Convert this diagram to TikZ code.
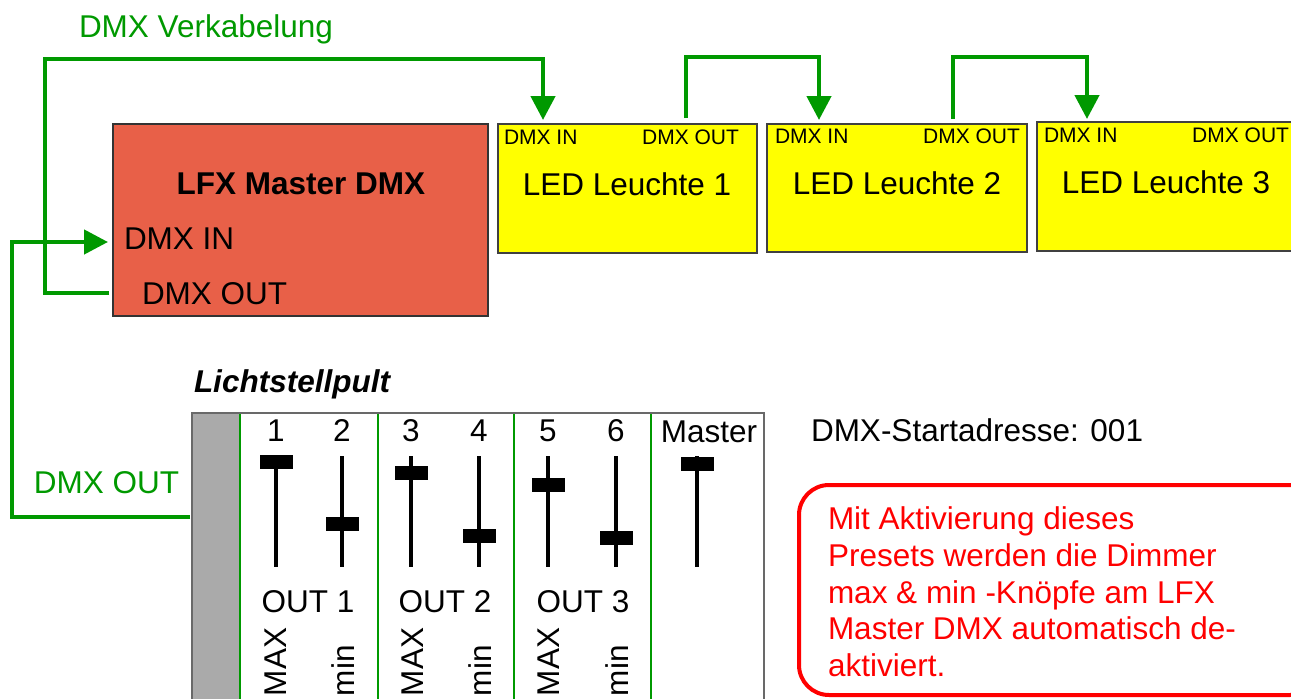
\documentclass[tikz,border=0pt]{standalone}
\usepackage{fontspec}
\setmainfont{Liberation Sans}
\usetikzlibrary{arrows.meta}
\definecolor{dmxgreen}{RGB}{0,153,0}
\definecolor{masterred}{RGB}{232,96,72}
\definecolor{ledyellow}{RGB}{255,255,0}
\definecolor{stripgray}{RGB}{170,170,170}
\definecolor{boxgray}{RGB}{105,105,105}
\definecolor{notered}{RGB}{255,0,0}
\begin{document}
\begin{tikzpicture}[x=1pt,y=-1pt,
  every node/.style={inner sep=0pt, outer sep=0pt},
  big/.style={font=\fontsize{31.5}{36.7}\selectfont},
  small/.style={font=\fontsize{21}{24}\selectfont},
  cable/.style={draw=dmxgreen, line width=4.5pt},
  cablearrow/.style={cable, -{Triangle[length=24pt,width=24pt]}},
  ledbox/.style={rectangle, draw=black!75, line width=1.2pt, fill=ledyellow},
  masterbox/.style={rectangle, draw=black!80, line width=1.2pt, fill=masterred},
  divider/.style={draw=dmxgreen, line width=1.8pt},
  faderline/.style={draw=black, line width=4pt},
  knob/.style={rectangle, fill=black, minimum width=33pt, minimum height=14pt},
  notebox/.style={rectangle, draw=notered, line width=4pt, rounded corners=30pt}
]
\useasboundingbox (0,0) rectangle (1291,699);
\clip (0,0) rectangle (1291,699);

% ---------- Master ----------
\node[masterbox, minimum width=375pt, minimum height=192pt] (master) at (300.5,220) {};
\node[big, font=\fontsize{31.5}{36.7}\selectfont\bfseries, anchor=base] (mtitle) at (301,194) {LFX Master DMX};
\node[big, anchor=base west] (min) at (124,249) {DMX IN};
\node[big, anchor=base west] (mout) at (142,304) {DMX OUT};

% ---------- LED fixtures ----------
\node[ledbox, minimum width=259pt, minimum height=129pt] (led1) at (627.5,188.5) {};
\node[ledbox, minimum width=260pt, minimum height=128pt] (led2) at (897,188) {};
\node[ledbox, minimum width=265pt, minimum height=129pt] (led3) at (1169.5,186.5) {};

\node[small, anchor=base west] (l1in)  at (504,144) {DMX IN};
\node[small, anchor=base east] (l1out) at (739,144) {DMX OUT};
\node[big, anchor=base] (l1name) at (627,195) {LED Leuchte 1};
\node[small, anchor=base west] (l2in)  at (775,143) {DMX IN};
\node[small, anchor=base east] (l2out) at (1020,143) {DMX OUT};
\node[big, anchor=base] (l2name) at (897,194) {LED Leuchte 2};
\node[small, anchor=base west] (l3in)  at (1044,142) {DMX IN};
\node[small, anchor=base east] (l3out) at (1289,142) {DMX OUT};
\node[big, anchor=base] (l3name) at (1166,193) {LED Leuchte 3};

% ---------- cabling ----------
\node[big, text=dmxgreen, anchor=base west] (cabling) at (79,37) {DMX Verkabelung};
\coordinate (mOutEnd) at (109,293);
\coordinate (mInEnd) at (108,242);
\coordinate (l1InEnd) at (543,120);
\coordinate (l1OutStart) at (686,118);
\coordinate (l2InEnd) at (819,120);
\coordinate (l2OutStart) at (953,119);
\coordinate (l3InEnd) at (1087,119);
\coordinate (pultOutStart) at (190,517);

\draw[cablearrow] (mOutEnd) -- (45,293) |- (543,59) -- (l1InEnd);
\draw[cablearrow] (l1OutStart) |- (819,57) -- (l2InEnd);
\draw[cablearrow] (l2OutStart) |- (1087,57) -- (l3InEnd);
\draw[cablearrow] (pultOutStart) -- (12,517) |- (mInEnd);
\node[big, text=dmxgreen, anchor=base west] (pultoutlabel) at (34,493) {DMX OUT};

% ---------- console ----------
\node[big, font=\fontsize{31.5}{36.7}\selectfont\bfseries\itshape, anchor=base west] (pulttitle) at (194,392) {Lichtstellpult};
\node[rectangle, draw=boxgray, line width=2pt, minimum width=572pt, minimum height=320pt] (pult) at (478,573) {};
\fill[stripgray] (193,414) rectangle (240,720);
\foreach \dx in {240,378,514,651} \draw[divider] (\dx,414) -- (\dx,720);

\foreach \fx/\ky/\lab in {276/462/1, 342/524/2, 411/473/3, 479/535.5/4, 548/485/5, 616/538/6}{
  \draw[faderline] (\fx,456) -- (\fx,567);
  \node[knob] (knob\lab) at (\fx,\ky) {};
  \node[big, anchor=base] (num\lab) at (\fx,441) {\lab};
}
\draw[faderline] (697,456) -- (697,567);
\node[knob] (knobM) at (697.5,464) {};
\node[big, anchor=base] (numM) at (709,442) {Master};

\node[big, anchor=base] (out1) at (308,612) {OUT 1};
\node[big, anchor=base] (out2) at (445,612) {OUT 2};
\node[big, anchor=base] (out3) at (583,612) {OUT 3};

\foreach \mx/\nx/\i in {286/354/1, 423/491/2, 559/628/3}{
  \node[big, rotate=90, anchor=base west] (max\i) at (\mx,696) {MAX};
  \node[big, rotate=90, anchor=base west] (mn\i) at (\nx,696) {min};
}

% ---------- notes ----------
\node[big, anchor=base west] (addr) at (811,441) {DMX-Startadresse: 001};
\node[notebox, minimum width=521pt, minimum height=210pt] (note) at (1059.5,590) {};
\node[big, text=notered, align=left, anchor=north west] (notetext) at (828,507)
  {Mit Aktivierung dieses\\Presets werden die Dimmer\\max \& min -Knöpfe am LFX\\Master DMX automatisch de-\\aktiviert.};
\end{tikzpicture}
\end{document}
